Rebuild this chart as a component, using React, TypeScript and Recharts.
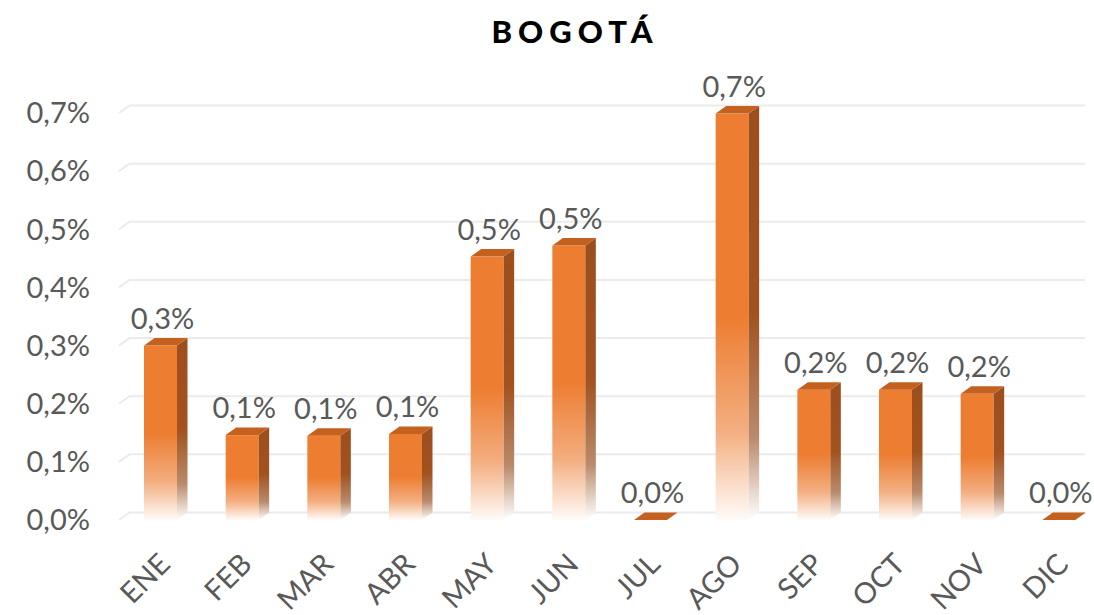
import { BarChart, Bar, XAxis, YAxis, CartesianGrid, LabelList } from 'recharts';

// Monthly variation, Bogotá (percent)
const months = ['ENE', 'FEB', 'MAR', 'ABR', 'MAY', 'JUN', 'JUL', 'AGO', 'SEP', 'OCT', 'NOV', 'DIC'];
const values = [0.3, 0.146, 0.145, 0.148, 0.453, 0.472, 0, 0.699, 0.224, 0.224, 0.217, 0];
const yTicks = [0, 0.1, 0.2, 0.3, 0.4, 0.5, 0.6, 0.7];

const data = months.map((m, i) => ({ month: m, value: values[i] }));

const FONT = 'Lato, "Open Sans", sans-serif';
const GRAY = '#595959';
const SHIFT = 1;
const DX = 10.5;
const DY = -7.5;

const fmt = (v: number) => v.toFixed(1).replace('.', ',') + '%';

function Bar3D(props: any) {
  const { x, y, width, height } = props;
  const fx = x + SHIFT;
  const h = Math.max(height, 0);
  return (
    <g>
      {h > 0 && <rect x={fx} y={y} width={width} height={h} fill="url(#frontGrad)" />}
      {h > 0 && (
        <polygon
          points={`${fx + width},${y} ${fx + width + DX},${y + DY} ${fx + width + DX},${y + h + DY} ${fx + width},${y + h}`}
          fill="url(#sideGrad)"
        />
      )}
      <polygon
        points={`${fx},${y} ${fx + DX},${y + DY} ${fx + width + DX},${y + DY} ${fx + width},${y}`}
        fill="#C4611F"
      />
    </g>
  );
}

function GridLine(props: any) {
  const { x1, y1 } = props;
  return (
    <polyline
      points={`${x1},${y1} ${x1 + DX},${y1 + DY} 1085,${y1 + DY}`}
      stroke="#EBEBEB"
      strokeWidth={2}
      fill="none"
    />
  );
}

function MonthTick(props: any) {
  const { x, y, payload } = props;
  const ax = x + 12;
  const ay = y + 46;
  return (
    <text
      x={ax}
      y={ay}
      transform={`rotate(-45, ${ax}, ${ay})`}
      textAnchor="end"
      fill={GRAY}
      fontFamily={FONT}
      fontSize={29}
    >
      {payload.value}
    </text>
  );
}

function ValueLabel(props: any) {
  const { x, y, width, value } = props;
  return (
    <text
      x={x + width / 2 + SHIFT + 2}
      y={y - 17}
      textAnchor="middle"
      fill={GRAY}
      fontFamily={FONT}
      fontSize={29}
    >
      {fmt(value)}
    </text>
  );
}

export default function App() {
  return (
    <div style={{ position: 'absolute', left: 0, top: 0, width: 1094, height: 615, background: '#fff' }}>
      <svg width={0} height={0} style={{ position: 'absolute' }}>
        <defs>
          <linearGradient id="frontGrad" x1="0" y1="0" x2="0" y2="1">
            <stop offset="0" stopColor="#ED7D31" />
            <stop offset="0.5" stopColor="#ED7D31" />
            <stop offset="0.78" stopColor="#F3AE80" />
            <stop offset="1" stopColor="#FFFBF8" />
          </linearGradient>
          <linearGradient id="sideGrad" x1="0" y1="0" x2="0" y2="1">
            <stop offset="0" stopColor="#9C4E1D" />
            <stop offset="0.5" stopColor="#A1521F" />
            <stop offset="0.8" stopColor="#B98A6C" />
            <stop offset="1" stopColor="#FFFFFF" />
          </linearGradient>
        </defs>
      </svg>
      <div
        style={{
          position: 'absolute',
          left: 28,
          top: 12,
          width: 1094,
          textAlign: 'center',
          fontFamily: FONT,
          fontWeight: 900,
          fontSize: 31,
          letterSpacing: 6,
          color: '#000',
        }}
      >
        BOGOTÁ
      </div>
      <BarChart
        width={1094}
        height={615}
        data={data}
        margin={{ top: 113, right: -5, bottom: 0, left: 0 }}
        barSize={33}
      >
        <CartesianGrid vertical={false} horizontal={GridLine} />
        <XAxis
          dataKey="month"
          axisLine={false}
          tickLine={false}
          tickSize={0}
          tickMargin={0}
          height={95}
          interval={0}
          tick={<MonthTick />}
        />
        <YAxis
          width={119}
          domain={[0, 0.7]}
          ticks={yTicks}
          axisLine={false}
          tickLine={false}
          tickSize={0}
          tickMargin={29}
          tickFormatter={fmt}
          tick={{ fill: GRAY, fontFamily: FONT, fontSize: 29 }}
        />
        <Bar dataKey="value" shape={Bar3D} isAnimationActive={false}>
          <LabelList dataKey="value" content={ValueLabel} />
        </Bar>
      </BarChart>
    </div>
  );
}
